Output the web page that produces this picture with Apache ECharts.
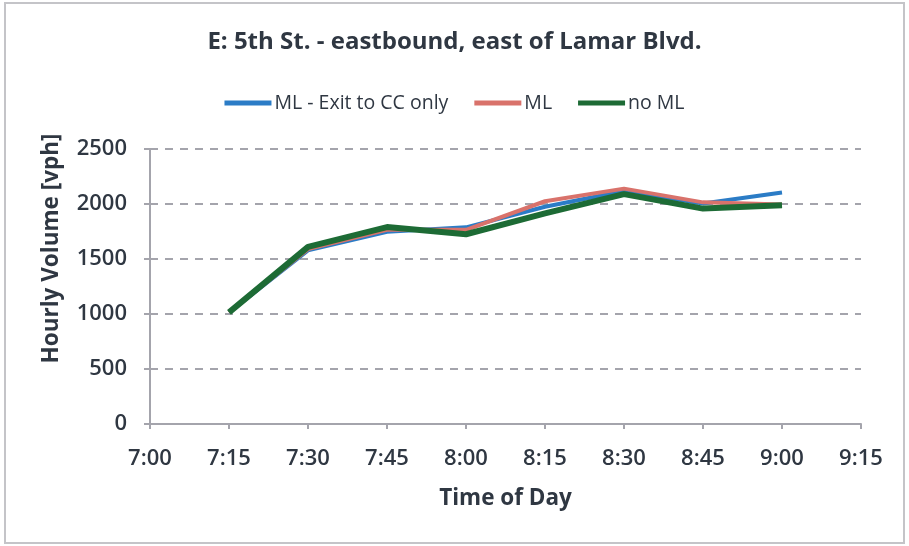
<!DOCTYPE html>
<html>
<head>
<meta charset="utf-8">
<script src="https://cdn.jsdelivr.net/npm/echarts@6/dist/echarts.min.js"></script>
<style>
html,body{margin:0;padding:0;background:#fff;}
#chart{width:909px;height:546px;}
</style>
</head>
<body>
<div id="chart"></div>
<script>
const categories = ['7:00','7:15','7:30','7:45','8:00','8:15','8:30','8:45','9:00','9:15'];
const mlExitCC = [null, 1015, 1578, 1748, 1788, 1975, 2118, 2005, 2105, null];
const ml       = [null, 1015, 1590, 1765, 1765, 2025, 2140, 2015, 1995, null];
const noML     = [null, 1015, 1610, 1790, 1725, 1915, 2090, 1958, 1988, null];
const yTicks   = [0, 500, 1000, 1500, 2000, 2500];

const textColor = '#2f3742';
const axisColor = '#a4a4ac';
const font = '"Open Sans", Lato, sans-serif';

const chart = echarts.init(document.getElementById('chart'));
chart.setOption({
  backgroundColor: '#fff',
  animation: false,
  textStyle: { fontFamily: font },
  title: {
    text: 'E: 5th St. - eastbound, east of Lamar Blvd.',
    left: 'center',
    top: 25,
    textStyle: { fontFamily: font, fontSize: 24, fontWeight: 'bold', color: textColor }
  },
  legend: {
    top: 88,
    left: 'center',
    itemWidth: 47,
    itemHeight: 5,
    itemGap: 26,
    icon: 'rect',
    textStyle: { fontFamily: font, fontSize: 19.5, color: textColor, padding: [0, 0, 0, -2] },
    data: ['ML - Exit to CC only', 'ML', 'no ML']
  },
  graphic: [{
    type: 'rect',
    shape: { x: 5, y: 3, width: 899, height: 540 },
    style: { fill: 'none', stroke: '#c4c4c8', lineWidth: 2 },
    silent: true
  }],
  grid: { left: 150, right: 48, top: 149, bottom: 122 },
  xAxis: {
    type: 'category',
    data: categories,
    boundaryGap: false,
    name: 'Time of Day',
    nameLocation: 'middle',
    nameGap: 63,
    nameTextStyle: { fontFamily: font, fontSize: 22.5, fontWeight: 'bold', color: textColor },
    axisLine: { lineStyle: { color: axisColor, width: 2 } },
    axisTick: { show: true, length: 5, lineStyle: { color: axisColor, width: 2 } },
    axisLabel: { fontFamily: font, fontSize: 22, color: textColor, margin: 24, fontWeight: 600 },
    splitLine: { show: false }
  },
  yAxis: {
    type: 'value',
    min: yTicks[0],
    max: yTicks[yTicks.length - 1],
    interval: 500,
    name: 'Hourly Volume [vph]',
    nameLocation: 'middle',
    nameGap: 87,
    nameRotate: 90,
    nameTextStyle: { fontFamily: font, fontSize: 22.5, fontWeight: 'bold', color: textColor, padding: [0, 0, 0, 76] },
    axisLine: { show: true, lineStyle: { color: axisColor, width: 2 } },
    axisTick: { show: true, length: 6, lineStyle: { color: axisColor, width: 2 } },
    axisLabel: { fontFamily: font, fontSize: 22, color: textColor, margin: 23, fontWeight: 600,
                 formatter: function (v) { return String(v); } },
    splitLine: { show: true, lineStyle: { color: axisColor, width: 2, type: [8, 7] } }
  },
  series: [
    { name: 'ML - Exit to CC only', type: 'line', data: mlExitCC, color: '#2b7cc6',
      showSymbol: false, symbol: 'none', lineStyle: { width: 4 }, z: 2 },
    { name: 'ML', type: 'line', data: ml, color: '#d9726b',
      showSymbol: false, symbol: 'none', lineStyle: { width: 4 }, z: 3 },
    { name: 'no ML', type: 'line', data: noML, color: '#1d6b35',
      showSymbol: false, symbol: 'none', lineStyle: { width: 6 }, z: 4 }
  ]
});
</script>
</body>
</html>
